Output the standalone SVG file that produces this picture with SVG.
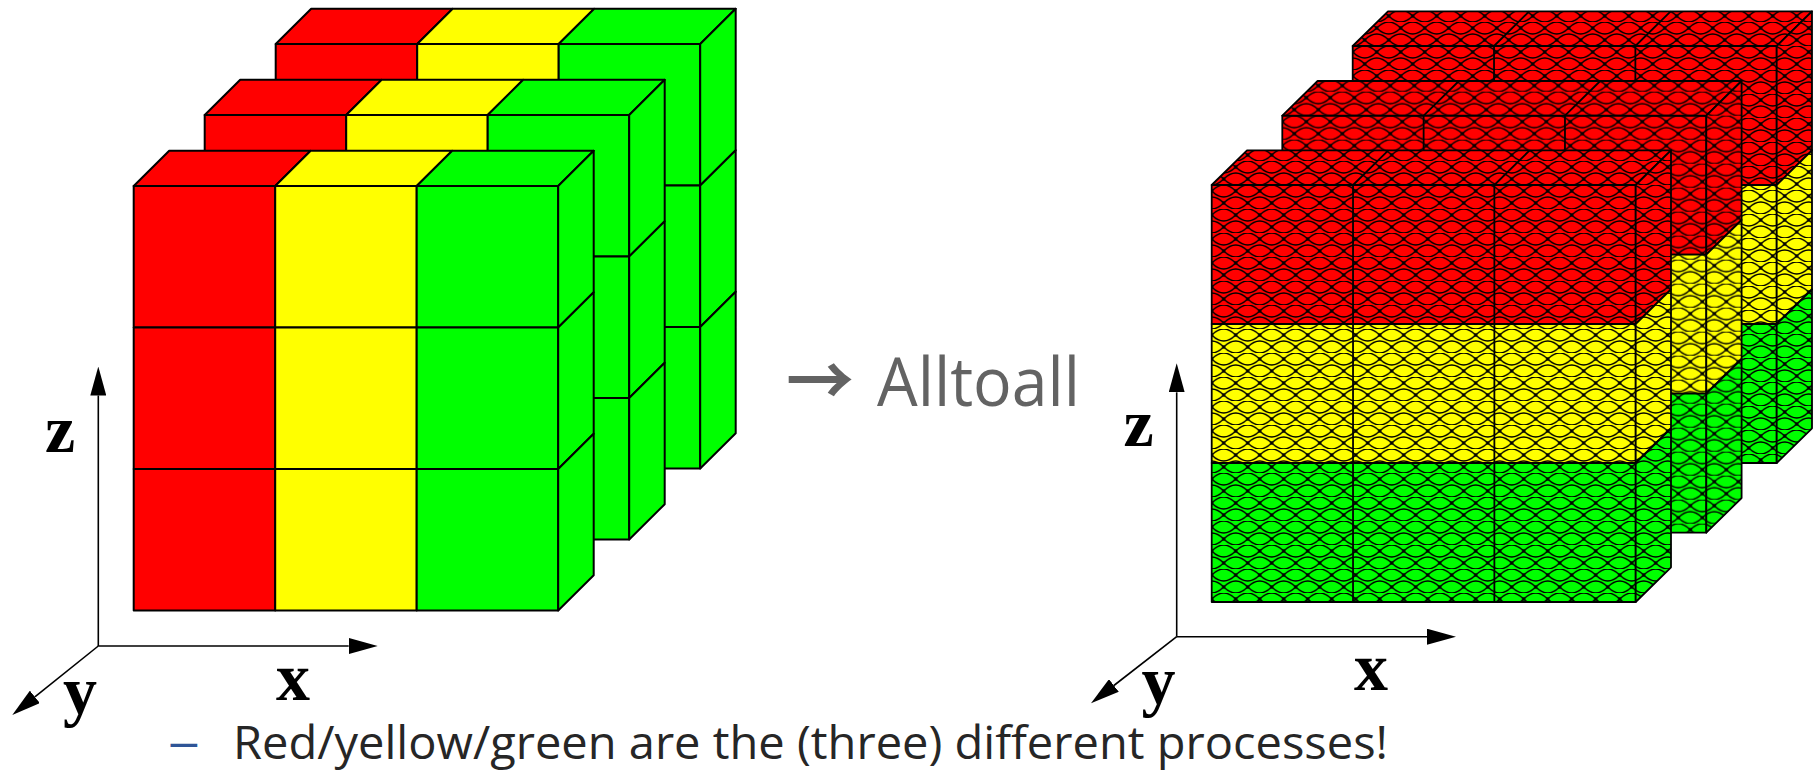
<svg xmlns="http://www.w3.org/2000/svg" width="1818" height="771" viewBox="0 0 1818 771">
<defs>
<style>
.e{stroke:#000;stroke-width:2;stroke-linejoin:round}
.e2{stroke:#000;stroke-width:1.8;stroke-linejoin:round}
.r{fill:#f00}.y{fill:#ff0}.g{fill:#0f0}
.pr{fill:url(#pR)}.py{fill:url(#pY)}.pg{fill:url(#pG)}
.ax{stroke:#000;stroke-width:1.6;fill:none;marker-end:url(#ah)}
.lbl{font-family:"Liberation Serif","Times New Roman",serif;font-weight:bold;font-size:68px;fill:#000}
.big{font-family:"Open Sans","Liberation Sans",sans-serif;font-size:68px;fill:#636363}
.arw{font-family:"Noto Sans CJK SC","DejaVu Sans",sans-serif;font-weight:bold;font-size:68px}
.note{font-family:"Open Sans","Liberation Sans",sans-serif;font-size:46px;fill:#262626}
.dash{font-family:"Liberation Sans",sans-serif;font-size:48px;fill:#2F5597}
.mesh{fill:none;stroke:#000;stroke-width:1.4}
</style>
<marker id="ah" viewBox="0 -8 29 16" markerWidth="29" markerHeight="16" refX="0" refY="0" markerUnits="userSpaceOnUse" orient="auto">
<path d="M0,-8L29,0L0,8Z" fill="#000"/>
</marker>
<g id="mesh">
<path class="mesh" d="M0,6Q12,-6 24,6Q12,18 0,6ZM-12,18Q0,6 12,18Q0,30 -12,18ZM12,18Q24,6 36,18Q24,30 12,18Z"/>
<circle cx="0" cy="6" r="1.8"/><circle cx="24" cy="6" r="1.8"/><circle cx="12" cy="18" r="1.8"/>
</g>
<pattern id="pR" width="24" height="24" patternUnits="userSpaceOnUse"><rect width="24" height="24" fill="#f00"/><use href="#mesh"/></pattern>
<pattern id="pY" width="24" height="24" patternUnits="userSpaceOnUse"><rect width="24" height="24" fill="#ff0"/><use href="#mesh"/></pattern>
<pattern id="pG" width="24" height="24" patternUnits="userSpaceOnUse"><rect width="24" height="24" fill="#0f0"/><use href="#mesh"/></pattern>
<g id="slabL" class="e">
<rect class="r" x="0" y="0" width="141.5" height="141.5"/>
<rect class="r" x="0" y="141.5" width="141.5" height="141.5"/>
<rect class="r" x="0" y="283" width="141.5" height="141.5"/>
<rect class="y" x="141.5" y="0" width="141.5" height="141.5"/>
<rect class="y" x="141.5" y="141.5" width="141.5" height="141.5"/>
<rect class="y" x="141.5" y="283" width="141.5" height="141.5"/>
<rect class="g" x="283" y="0" width="141.5" height="141.5"/>
<rect class="g" x="283" y="141.5" width="141.5" height="141.5"/>
<rect class="g" x="283" y="283" width="141.5" height="141.5"/>
<polygon class="r" points="0,0 141.5,0 177,-35.3 35.5,-35.3"/>
<polygon class="y" points="141.5,0 283,0 318.5,-35.3 177,-35.3"/>
<polygon class="g" points="283,0 424.5,0 460,-35.3 318.5,-35.3"/>
<polygon class="g" points="424.5,0 460,-35.3 460,106.2 424.5,141.5"/>
<polygon class="g" points="424.5,141.5 460,106.2 460,247.7 424.5,283"/>
<polygon class="g" points="424.5,283 460,247.7 460,389.2 424.5,424.5"/>
</g>
<g id="slabR" class="e2">
<rect class="pr" x="0" y="0" width="424" height="139"/>
<rect class="py" x="0" y="139" width="424" height="139"/>
<rect class="pg" x="0" y="278" width="424" height="139"/>
<polygon class="pr" points="0,0 424,0 459.3,-34.7 35.3,-34.7"/>
<polygon class="pr" points="424,0 459.3,-34.7 459.3,104.3 424,139"/>
<polygon class="py" points="424,139 459.3,104.3 459.3,243.3 424,278"/>
<polygon class="pg" points="424,278 459.3,243.3 459.3,382.3 424,417"/>
<path fill="none" d="M141.33,0V417M282.67,0V417M141.33,0L176.63,-34.7M282.67,0L317.97,-34.7"/>
</g>
</defs>
<rect width="1818" height="771" fill="#fff"/>
<g id="left-cube">
<g id="left-slab-back"><use href="#slabL" x="275.7" y="44"/></g>
<g id="left-slab-middle"><use href="#slabL" x="204.7" y="115"/></g>
<g id="left-slab-front"><use href="#slabL" x="133.7" y="186"/></g>
</g>
<g id="right-cube">
<g id="right-slab-back"><use href="#slabR" x="1352.7" y="46"/></g>
<g id="right-slab-middle"><use href="#slabR" x="1282.3" y="115.7"/></g>
<g id="right-slab-front"><use href="#slabR" x="1211.7" y="185"/></g>
</g>
<g id="connectors">
<path class="ax" d="M98.3,646V395.5"/>
<path class="ax" d="M98.3,646H348.7"/>
<path class="ax" d="M98.3,646L34.9,696.9"/>
<path class="ax" d="M1176.7,636.7V392.3"/>
<path class="ax" d="M1176.7,636.7H1427"/>
<path class="ax" d="M1176.7,636.7L1113.9,685.5"/>
</g>
<g id="axis-labels">
<text class="lbl" x="45" y="451.7">z</text>
<text class="lbl" x="276" y="700">x</text>
<text class="lbl" x="63" y="714">y</text>
<text class="lbl" x="1123.5" y="446">z</text>
<text class="lbl" x="1354" y="690">x</text>
<text class="lbl" x="1141.5" y="704">y</text>
</g>
<g id="alltoall-label">
<text class="big" y="406"><tspan class="arw" x="786">→</tspan><tspan x="877" textLength="203" lengthAdjust="spacingAndGlyphs">Alltoall</tspan></text>
</g>
<g id="note">
<text class="dash" x="170.5" y="758">–</text>
<text class="note" x="233" y="759" textLength="1155" lengthAdjust="spacingAndGlyphs">Red/yellow/green are the (three) different processes!</text>
</g>
</svg>
